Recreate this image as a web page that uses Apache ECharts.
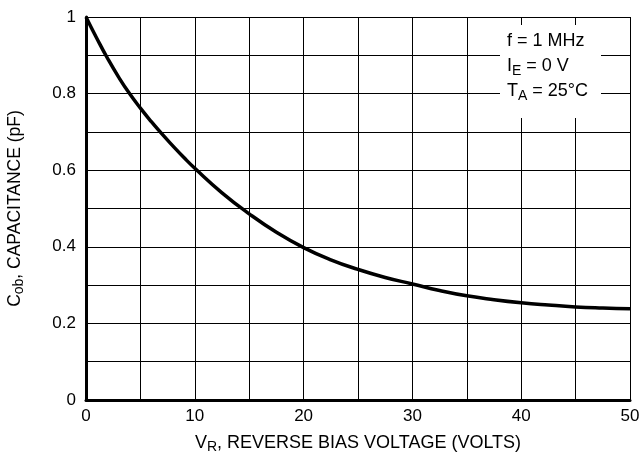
<!DOCTYPE html>
<html>
<head>
<meta charset="utf-8">
<script src="https://cdn.jsdelivr.net/npm/echarts@6/dist/echarts.min.js"></script>
<style>
html,body{margin:0;padding:0;background:#fff;}
#c{width:640px;height:462px;}
</style>
</head>
<body>
<div id="c"></div>
<script>
// Reverse bias voltage (V)
const voltage = [0, 1, 2, 3, 4, 5, 6, 7, 8, 9, 10, 12.5, 15, 17.5, 20, 22.5, 25, 27.5, 30, 32.5, 35, 37.5, 40, 42.5, 45, 47.5, 50];
// Capacitance Cob (pF)
const capacitance = [1.0, 0.944, 0.891, 0.843, 0.800, 0.762, 0.727, 0.694, 0.663, 0.633, 0.605, 0.541, 0.486, 0.438, 0.398, 0.366, 0.341, 0.320, 0.303, 0.286, 0.272, 0.262, 0.254, 0.248, 0.243, 0.240, 0.238];
const xTickLabels = ['0', '10', '20', '30', '40', '50'];
const yTickLabels = ['0', '0.2', '0.4', '0.6', '0.8', '1'];

const FONT = '"Liberation Sans", Arial, sans-serif';
const chart = echarts.init(document.getElementById('c'), null, {renderer: 'canvas'});

const points = voltage.map((v, i) => [v, capacitance[i]]);

function richStyles(size, lh, subSize) {
  return {
    m: {fontFamily: FONT, fontSize: size, color: '#000', lineHeight: lh},
    s: {fontFamily: FONT, fontSize: subSize, color: '#000', lineHeight: subSize, verticalAlign: 'bottom'}
  };
}

chart.setOption({
  animation: false,
  backgroundColor: '#fff',
  grid: {left: 86, right: 10, top: 17, bottom: 62, containLabel: false, outerBoundsMode: 'none'},
  xAxis: {
    type: 'value', min: 0, max: 50, interval: 5,
    axisLine: {show: true, onZero: false, lineStyle: {color: '#000', width: 3}},
    axisTick: {show: false},
    splitLine: {show: true, lineStyle: {color: '#000', width: 1}},
    axisLabel: {
      color: '#000', fontFamily: FONT, fontSize: 17, margin: 8,
      formatter: v => { const s = String(v); return xTickLabels.includes(s) ? s : ''; }
    },
    name: '{m|V}{s|R}{m|, REVERSE BIAS VOLTAGE (VOLTS)}',
    nameLocation: 'middle', nameGap: 32,
    nameTextStyle: {color: '#000', fontFamily: FONT, fontSize: 18, rich: richStyles(18, 22, 14)}
  },
  yAxis: {
    type: 'value', min: 0, max: 1, interval: 0.1,
    axisLine: {show: true, onZero: false, lineStyle: {color: '#000', width: 3}},
    axisTick: {show: false},
    splitLine: {show: true, lineStyle: {color: '#000', width: 1}},
    axisLabel: {
      color: '#000', fontFamily: FONT, fontSize: 17, margin: 10,
      formatter: v => { const s = String(Math.round(v * 10) / 10); return yTickLabels.includes(s) ? s : ''; }
    },
    name: '{m|C}{s|ob}{m|, CAPACITANCE (pF)}',
    nameLocation: 'middle', nameGap: 60, nameRotate: 90,
    nameTextStyle: {color: '#000', fontFamily: FONT, fontSize: 17.5, rich: richStyles(17.5, 22, 14)}
  },
  series: [{
    type: 'line',
    data: points,
    smooth: 0.5,
    showSymbol: false,
    lineStyle: {color: '#000', width: 3.5},
    z: 5
  }],
  graphic: [
    {type: 'rect', shape: {x: 500, y: 25, width: 101, height: 93}, style: {fill: '#fff'}, z: 10},
    {type: 'text', left: 507, top: 32, z: 11,
      style: {
        text: '{m|f = 1 MHz}\n{m|I}{s|E}{m| = 0 V}\n{m|T}{s|A}{m| = 25°C}',
        fontFamily: FONT, fontSize: 18, fill: '#000',
        rich: {
          m: {fontFamily: FONT, fontSize: 18, fill: '#000', lineHeight: 25},
          s: {fontFamily: FONT, fontSize: 14, fill: '#000', lineHeight: 14, verticalAlign: 'bottom'}
        }
      }
    }
  ]
});
</script>
</body>
</html>
